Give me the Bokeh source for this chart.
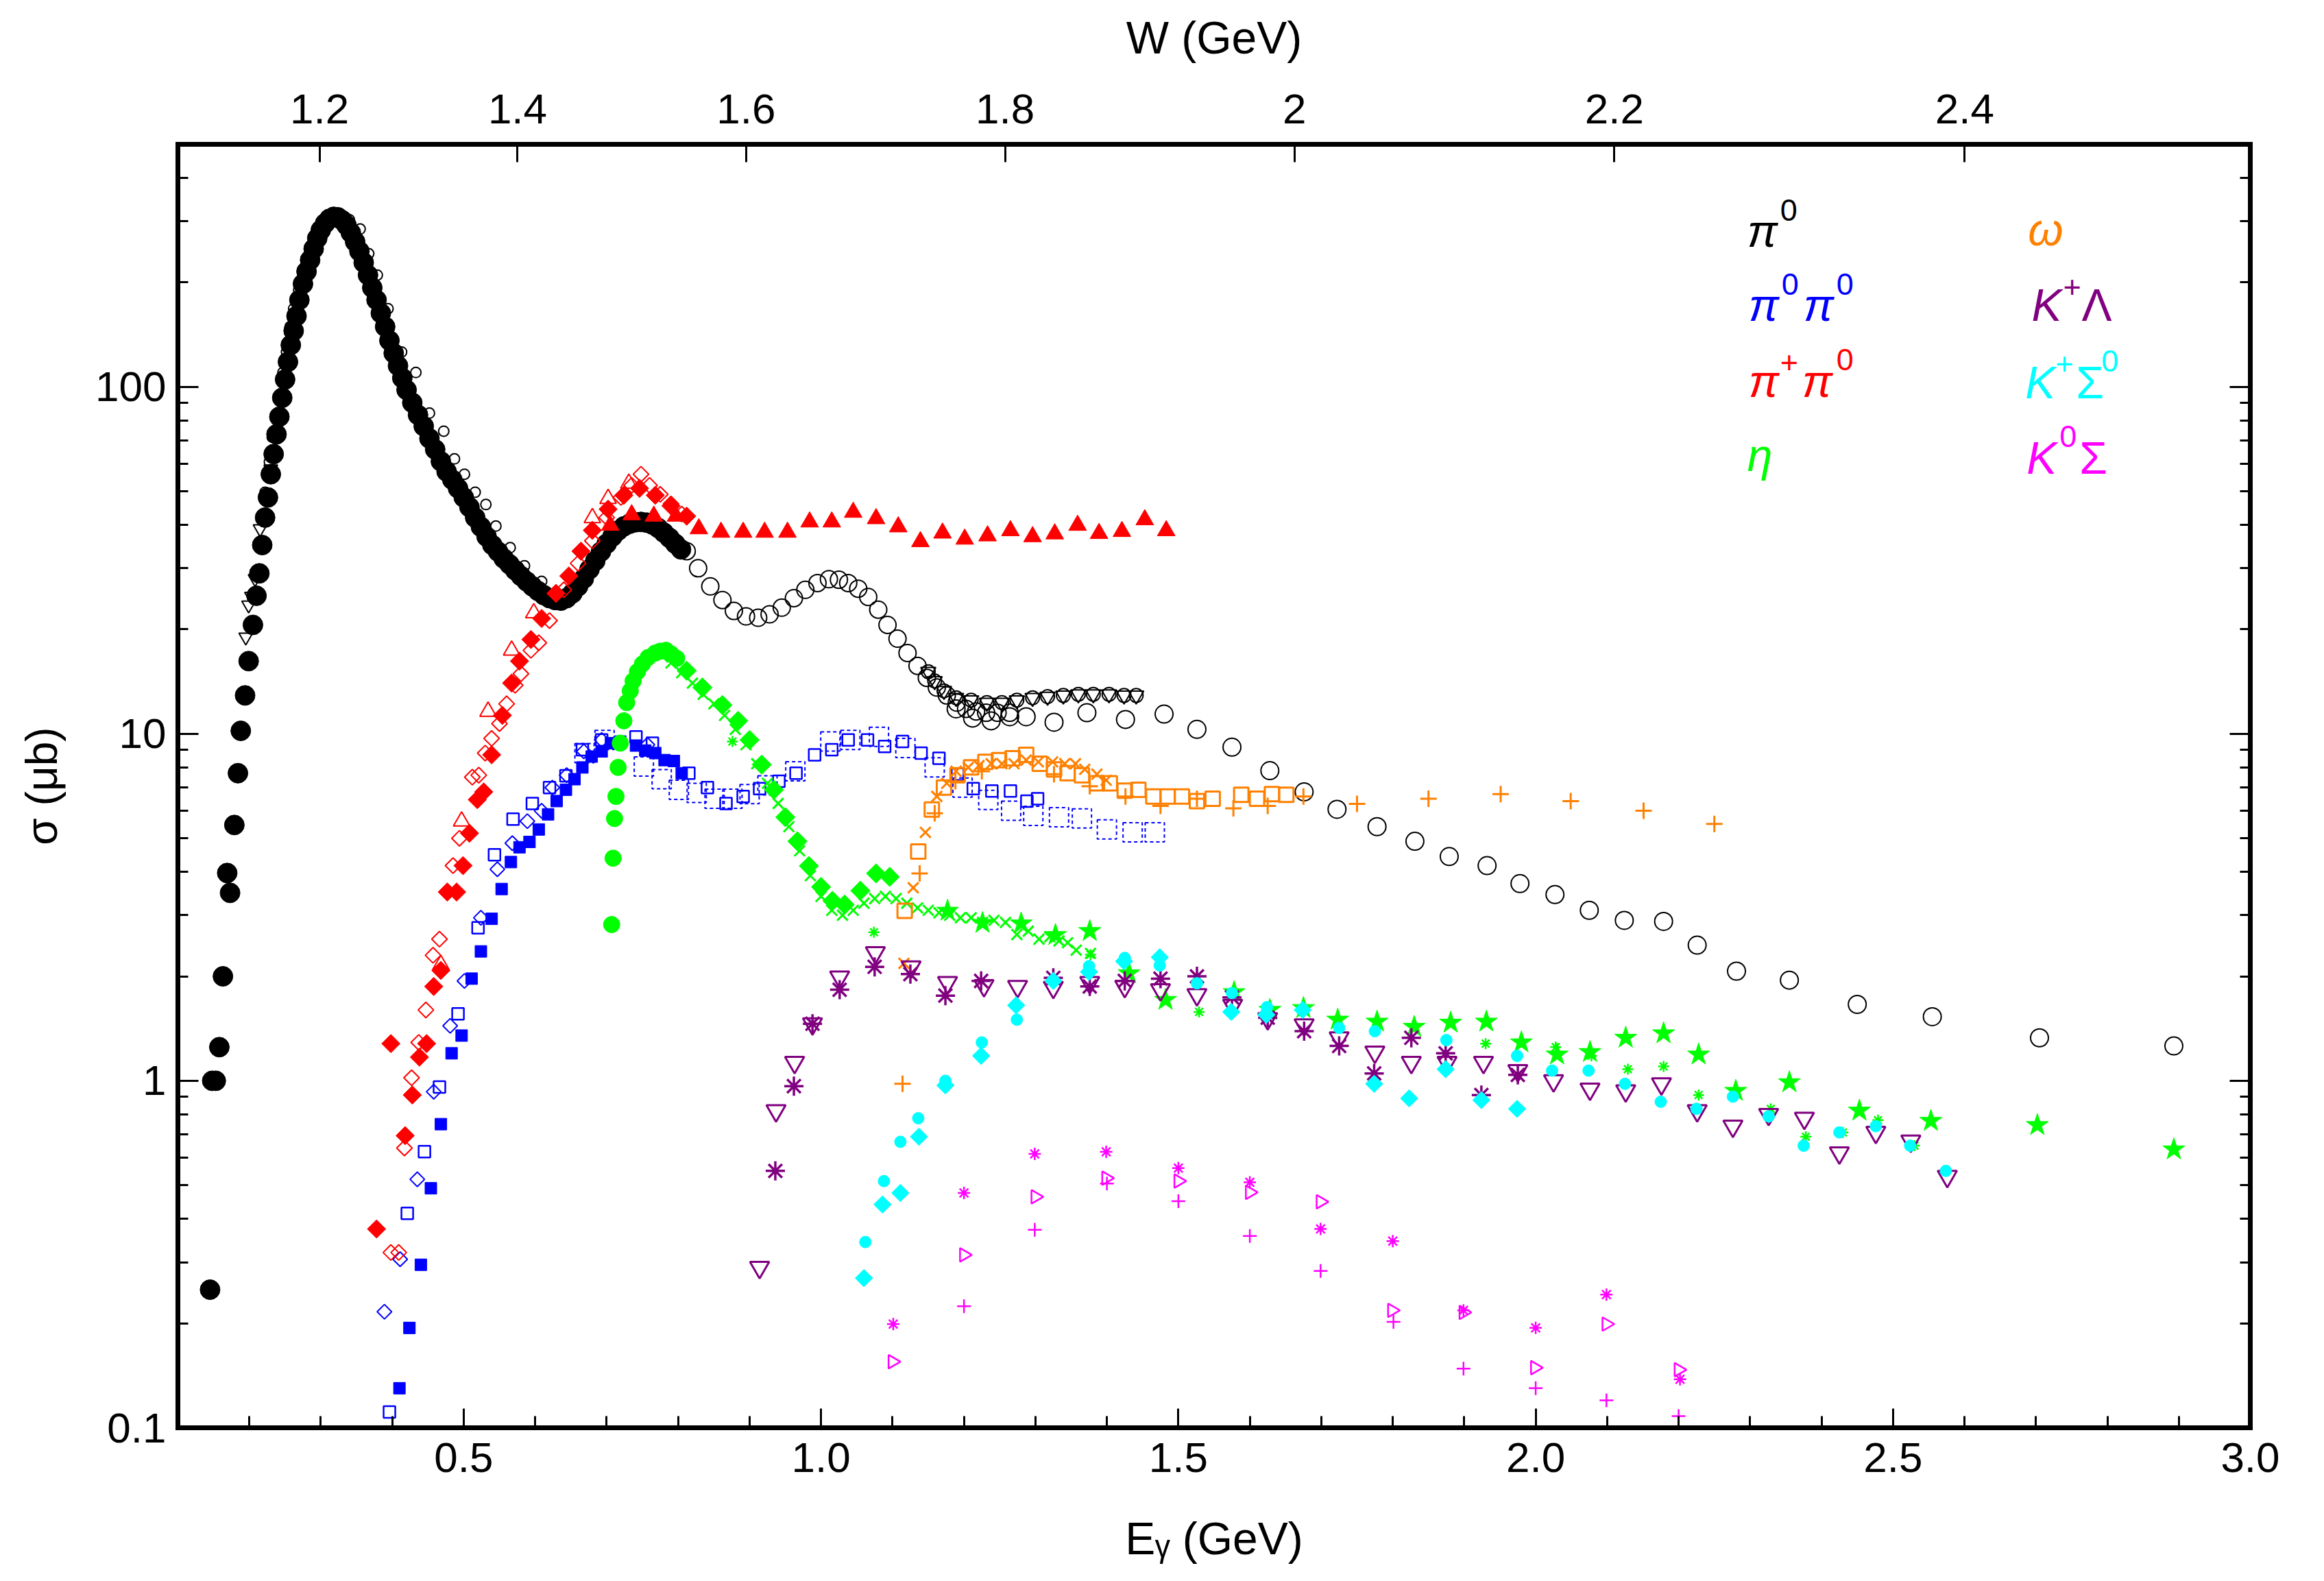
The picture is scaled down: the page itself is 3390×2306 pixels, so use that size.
import numpy as np
from bokeh.plotting import figure
from bokeh.models import FixedTicker, LinearAxis, LogAxis, Label, Range1d
from bokeh.embed import file_html
from bokeh.resources import INLINE

# ---------------- data (E_gamma [GeV], sigma [mub]) ----------------
# pi0 : black
pi0_fill = [(0.145, 0.25), (0.148, 1.0), (0.153, 1.0), (0.158, 1.25), (0.163, 2.0), (0.169, 3.97), (0.173, 3.48),
            (0.179, 5.46), (0.184, 7.7), (0.188, 10.2), (0.194, 12.9), (0.199, 16.2), (0.205, 20.6), (0.210, 25),
            (0.214, 29), (0.218, 35), (0.222, 42), (0.226, 48), (0.230, 56), (0.234, 64), (0.238, 73), (0.242, 82),
            (0.246, 93), (0.250, 105), (0.254, 118), (0.258, 132), (0.262, 145), (0.266, 160), (0.270, 178),
            (0.275, 198), (0.280, 215), (0.285, 232), (0.290, 250), (0.295, 268), (0.300, 283), (0.306, 296),
            (0.312, 305), (0.318, 309), (0.324, 308), (0.330, 302), (0.336, 292), (0.342, 278), (0.348, 262),
            (0.354, 246), (0.360, 228), (0.366, 210), (0.372, 193), (0.378, 178), (0.384, 163), (0.390, 149),
            (0.396, 136), (0.402, 125), (0.408, 115), (0.414, 106), (0.420, 98), (0.428, 90), (0.436, 83),
            (0.444, 77), (0.452, 71), (0.460, 66), (0.468, 61), (0.476, 57), (0.484, 54), (0.492, 51), (0.500, 48),
            (0.508, 45), (0.516, 42), (0.524, 39.5), (0.532, 37), (0.540, 35), (0.548, 33.5), (0.556, 32),
            (0.564, 30.8), (0.572, 29.6), (0.580, 28.5), (0.588, 27.5), (0.596, 26.6), (0.604, 25.8), (0.612, 25.1),
            (0.620, 24.6), (0.628, 24.3), (0.636, 24.2), (0.644, 24.6), (0.652, 25.4), (0.660, 26.6), (0.668, 28.0),
            (0.676, 29.8), (0.684, 31.5), (0.692, 33.5), (0.700, 35.3), (0.708, 37), (0.716, 38.5), (0.724, 39.6),
            (0.732, 40.3), (0.740, 40.7), (0.748, 40.8), (0.756, 40.6), (0.764, 40.1), (0.772, 39.2), (0.780, 38),
            (0.788, 36.7), (0.796, 35.3), (0.804, 34)]
pi0_small = [(0.222, 49.7), (0.228, 60.8), (0.232, 71.6), (0.237, 81), (0.242, 93), (0.247, 110), (0.252, 126),
             (0.257, 149), (0.262, 168), (0.269, 190), (0.276, 214), (0.286, 247), (0.296, 279), (0.311, 306),
             (0.325, 312), (0.340, 303), (0.355, 285), (0.367, 242), (0.379, 210), (0.394, 168), (0.413, 126),
             (0.433, 110), (0.452, 84), (0.472, 74.5), (0.487, 62), (0.501, 56), (0.516, 49.7), (0.531, 45.8),
             (0.545, 39.7), (0.565, 34.4), (0.585, 30.5), (0.609, 27.5), (0.678, 29.3), (0.697, 35.2), (0.720, 38.5),
             (0.745, 41), (0.770, 40)]
pi0_thr_tri = [(0.195, 19), (0.199, 23.5), (0.203, 24.9), (0.208, 28), (0.215, 39), (0.230, 58)]
pi0_open = [(0.812, 33.6), (0.828, 30.0), (0.845, 26.6), (0.862, 24.3), (0.878, 22.6), (0.895, 21.8), (0.912, 21.6),
            (0.928, 22.1), (0.945, 23.1), (0.962, 24.6), (0.978, 26.0), (0.995, 27.2), (1.011, 27.9), (1.025, 27.8),
            (1.038, 27.2), (1.052, 26.2), (1.066, 24.8), (1.080, 22.8), (1.093, 20.6), (1.107, 18.8), (1.121, 17.1),
            (1.135, 15.7), (1.148, 14.5), (1.162, 13.6), (1.176, 12.9), (1.190, 12.3), (1.203, 11.8), (1.217, 11.6),
            (1.231, 11.5), (1.247, 11.5), (1.264, 11.5)]
pi0_heart = [(1.150, 15.1), (1.159, 14.2), (1.172, 13.3), (1.189, 12.7), (1.210, 12.5), (1.232, 12.3), (1.253, 12.3),
             (1.274, 12.5), (1.296, 12.7), (1.317, 12.8), (1.339, 12.9), (1.360, 13.0), (1.381, 13.0), (1.403, 13.0),
             (1.424, 12.9), (1.441, 12.9)]
pi0_big = [(1.189, 11.8), (1.212, 11.1), (1.238, 10.9), (1.264, 11.2), (1.287, 11.2), (1.326, 10.8), (1.372, 11.5),
           (1.426, 11.0), (1.480, 11.4), (1.526, 10.3), (1.575, 9.15), (1.628, 7.83), (1.676, 6.8), (1.722, 6.06),
           (1.778, 5.4), (1.831, 4.9), (1.879, 4.43), (1.932, 4.17), (1.978, 3.7), (2.027, 3.44), (2.075, 3.1),
           (2.124, 2.9), (2.179, 2.88), (2.226, 2.46), (2.281, 2.07), (2.355, 1.95), (2.450, 1.66), (2.555, 1.53),
           (2.705, 1.33), (2.893, 1.26)]

# pi0 pi0 : blue
pp_fsq = [(0.410, 0.13), (0.424, 0.194), (0.440, 0.295), (0.454, 0.49), (0.468, 0.75), (0.483, 1.2), (0.497, 1.35),
          (0.511, 1.97), (0.524, 2.36), (0.539, 2.93), (0.553, 3.57), (0.566, 4.27), (0.578, 4.71), (0.592, 4.88),
          (0.605, 5.3), (0.618, 5.86), (0.630, 6.4), (0.643, 6.9), (0.655, 7.4), (0.666, 8.0), (0.679, 8.6),
          (0.693, 8.9), (0.706, 9.4), (0.719, 9.5), (0.741, 9.25), (0.754, 8.95), (0.768, 8.8), (0.781, 8.4),
          (0.794, 8.35), (0.805, 7.7)]
pp_osq = [(0.396, 0.111), (0.421, 0.415), (0.445, 0.625), (0.466, 0.96), (0.492, 1.56), (0.520, 2.76), (0.543, 4.48),
          (0.569, 5.68), (0.596, 6.3), (0.620, 7.0), (0.643, 7.57), (0.666, 9.0), (0.693, 9.6), (0.741, 9.8),
          (0.764, 9.4), (0.815, 7.7), (0.841, 7.0), (0.867, 6.3), (0.891, 6.6), (0.914, 6.95), (0.941, 7.3),
          (0.965, 7.7), (0.991, 8.7), (1.015, 9.0), (1.038, 9.6), (1.065, 9.6), (1.089, 9.2), (1.114, 9.5),
          (1.140, 8.8), (1.165, 8.5), (1.191, 7.65), (1.213, 6.95), (1.239, 6.84), (1.265, 6.84), (1.288, 6.4),
          (1.303, 6.5)]
pp_dsq = [(0.669, 8.8), (0.697, 9.6), (0.752, 8.05), (0.777, 7.4), (0.801, 6.9), (0.826, 6.76), (0.851, 6.5),
          (0.876, 6.5), (0.900, 6.7), (0.925, 7.1), (0.964, 7.8), (1.013, 9.5), (1.041, 9.6), (1.081, 9.8),
          (1.118, 9.1), (1.159, 8.0), (1.198, 7.0), (1.234, 6.45), (1.266, 6.0), (1.297, 5.8), (1.333, 5.75),
          (1.365, 5.7), (1.400, 5.3), (1.436, 5.2), (1.467, 5.2)]
pp_odia = [(0.389, 0.216), (0.411, 0.306), (0.435, 0.52), (0.458, 0.93), (0.481, 1.44), (0.501, 1.94), (0.524, 2.95),
           (0.547, 4.07), (0.568, 4.84), (0.589, 5.6), (0.609, 6.0), (0.624, 7.0), (0.644, 7.6), (0.668, 8.9),
           (0.693, 9.6), (0.757, 9.3)]

# pi+ pi0 : red
pc_fdia = [(0.378, 0.374), (0.398, 1.28), (0.418, 0.695), (0.428, 0.91), (0.438, 1.17), (0.448, 1.28), (0.458, 1.87),
           (0.468, 2.08), (0.477, 3.5), (0.490, 3.5), (0.499, 4.17), (0.508, 5.17), (0.519, 6.46), (0.528, 6.8),
           (0.539, 8.7), (0.554, 11.3), (0.567, 14), (0.578, 16.2), (0.594, 18.7), (0.609, 21.5), (0.629, 25.4),
           (0.647, 28.5), (0.664, 33.6), (0.680, 38.6), (0.702, 44.4), (0.724, 48.7), (0.746, 51), (0.768, 48.7),
           (0.790, 45.4), (0.812, 42.4)]
pc_odia = [(0.398, 0.32), (0.409, 0.32), (0.417, 0.64), (0.427, 1.02), (0.437, 1.29), (0.447, 1.6), (0.457, 2.3),
           (0.466, 2.56), (0.485, 4.17), (0.494, 5.0), (0.512, 7.5), (0.521, 7.6), (0.530, 8.8), (0.539, 9.7),
           (0.550, 10.7), (0.560, 12.2), (0.572, 13.8), (0.580, 14.9), (0.594, 17.4), (0.605, 18.3), (0.620, 21.2),
           (0.640, 26), (0.660, 31), (0.680, 36), (0.700, 42), (0.720, 48), (0.735, 52), (0.748, 56), (0.760, 52),
           (0.775, 49), (0.790, 46), (0.805, 43)]
pc_otri = [(0.468, 2.16), (0.497, 5.6), (0.534, 11.6), (0.567, 17.4), (0.598, 22.3), (0.680, 41.9), (0.702, 47.6),
           (0.731, 52.7)]
pc_ftri = [(0.705, 39.9), (0.735, 42.8), (0.766, 42.4), (0.797, 42.4), (0.829, 39), (0.860, 38.1), (0.891, 38.1),
           (0.921, 38.1), (0.953, 38.1), (0.984, 40.8), (1.015, 40.8), (1.045, 43.5), (1.077, 41.7), (1.108, 39.5),
           (1.139, 35.8), (1.170, 37.9), (1.201, 36.4), (1.233, 37.2), (1.265, 38.5), (1.296, 37), (1.327, 37.7),
           (1.359, 39.9), (1.389, 37.8), (1.421, 38.3), (1.453, 41.4), (1.483, 38.5)]

# eta : green
eta_club = [(0.707, 2.82), (0.709, 4.38), (0.711, 5.7), (0.713, 6.6), (0.716, 8.0), (0.719, 9.4), (0.724, 10.9),
            (0.728, 12.3), (0.733, 13.3), (0.737, 14.2), (0.743, 15.1), (0.750, 15.9), (0.758, 16.6), (0.768, 17.1),
            (0.775, 17.3), (0.783, 17.4), (0.790, 17.0), (0.798, 16.5)]
eta_dia = [(0.785, 17.1), (0.812, 15.2), (0.834, 13.6), (0.862, 12.1), (0.884, 10.9), (0.900, 9.6), (0.917, 8.15),
           (0.934, 6.9), (0.950, 5.75), (0.967, 4.9), (0.983, 4.16), (1.000, 3.62), (1.016, 3.3), (1.033, 3.22),
           (1.055, 3.53), (1.077, 3.96), (1.096, 3.87)]
eta_x = [(0.790, 16.0), (0.805, 15.0), (0.820, 14.0), (0.835, 13.0), (0.850, 12.2), (0.865, 11.3), (0.880, 10.3),
         (0.895, 9.3), (0.910, 8.2), (0.925, 7.2), (0.940, 6.3), (0.955, 5.4), (0.970, 4.6), (0.985, 3.9),
         (1.000, 3.4), (1.015, 3.1), (1.030, 3.0), (1.045, 3.1), (1.060, 3.25), (1.075, 3.35), (1.090, 3.4),
         (1.105, 3.35), (1.120, 3.25), (1.135, 3.15), (1.150, 3.1), (1.165, 3.05), (1.180, 3.0), (1.195, 2.95),
         (1.210, 2.95), (1.226, 2.86), (1.242, 2.9), (1.258, 2.86), (1.274, 2.64), (1.290, 2.7), (1.305, 2.56),
         (1.320, 2.6), (1.333, 2.53), (1.345, 2.5), (1.357, 2.38), (1.377, 2.33)]
eta_star = [(1.177, 3.09), (1.226, 2.85), (1.280, 2.84), (1.328, 2.63), (1.376, 2.70), (1.431, 2.04), (1.482, 1.71),
            (1.578, 1.80), (1.628, 1.60), (1.675, 1.62), (1.723, 1.50), (1.778, 1.48), (1.830, 1.43), (1.881, 1.47),
            (1.931, 1.48), (1.980, 1.29), (2.030, 1.19), (2.076, 1.21), (2.126, 1.33), (2.179, 1.37), (2.228, 1.19),
            (2.280, 0.935), (2.355, 0.99), (2.453, 0.82), (2.553, 0.766), (2.702, 0.745), (2.893, 0.634)]
eta_ast = [(0.876, 9.5), (1.074, 2.68), (1.377, 2.31), (1.529, 1.58), (1.930, 1.28), (2.028, 1.25), (2.078, 1.18),
           (2.129, 1.08), (2.179, 1.10), (2.228, 0.91), (2.329, 0.83), (2.378, 0.69), (2.430, 0.71), (2.479, 0.77),
           (2.530, 0.65)]

# omega : orange
om_x = [(1.116, 2.18), (1.129, 3.6), (1.146, 5.2), (1.162, 6.6), (1.176, 7.2), (1.189, 7.8), (1.206, 8.0),
        (1.221, 8.1), (1.238, 8.2), (1.253, 8.2), (1.270, 8.2), (1.287, 8.4), (1.304, 8.3), (1.324, 8.3),
        (1.341, 8.2), (1.356, 8.2), (1.369, 7.9), (1.386, 7.65), (1.399, 7.35)]
om_sq = [(1.117, 3.09), (1.136, 4.58), (1.155, 6.05), (1.172, 7.0), (1.191, 7.6), (1.210, 8.0), (1.230, 8.3),
         (1.249, 8.4), (1.268, 8.5), (1.287, 8.7), (1.306, 8.2), (1.326, 7.9), (1.345, 7.7), (1.365, 7.6),
         (1.386, 7.2), (1.404, 7.2), (1.425, 6.86), (1.444, 6.9), (1.465, 6.6), (1.485, 6.6), (1.505, 6.6),
         (1.526, 6.4), (1.548, 6.5), (1.588, 6.67), (1.610, 6.5), (1.631, 6.7), (1.651, 6.67)]
om_plus = [(1.114, 0.98), (1.138, 3.96), (1.159, 5.9), (1.188, 7.3), (1.225, 7.8), (1.326, 7.65), (1.376, 7.06),
           (1.426, 6.6), (1.475, 6.2), (1.526, 6.5), (1.577, 6.1), (1.625, 6.2), (1.675, 6.6), (1.750, 6.28),
           (1.850, 6.5), (1.951, 6.7), (2.049, 6.4), (2.151, 6.0), (2.250, 5.5)]

# K+ Lambda : purple
kl_ast = [(0.936, 0.55), (0.962, 0.965), (0.988, 1.46), (1.026, 1.83), (1.075, 2.13), (1.125, 2.03), (1.174, 1.76),
          (1.224, 1.94), (1.325, 1.98), (1.376, 1.87), (1.425, 1.94), (1.475, 1.97), (1.526, 2.0), (1.575, 1.74),
          (1.625, 1.52), (1.676, 1.39), (1.725, 1.26), (1.774, 1.05), (1.826, 1.33), (1.874, 1.2), (1.924, 0.91),
          (1.975, 1.04)]
kl_tri = [(0.914, 0.29), (0.937, 0.82), (0.963, 1.13), (0.988, 1.46), (1.026, 1.99), (1.076, 2.34), (1.126, 2.13),
          (1.177, 1.92), (1.228, 1.88), (1.275, 1.87), (1.325, 1.86), (1.376, 1.92), (1.425, 1.87), (1.475, 1.83),
          (1.526, 1.77), (1.576, 1.65), (1.625, 1.51), (1.676, 1.45), (1.725, 1.33), (1.775, 1.21), (1.826, 1.13),
          (1.876, 1.13), (1.927, 1.13), (1.975, 1.07), (2.025, 1.0), (2.076, 0.946), (2.126, 0.935), (2.176, 0.98),
          (2.226, 0.82), (2.276, 0.74), (2.326, 0.80), (2.376, 0.78), (2.425, 0.62), (2.476, 0.71), (2.525, 0.67),
          (2.576, 0.53)]

# K+ Sigma0 : cyan
ks_circ = [(1.062, 0.343), (1.088, 0.514), (1.111, 0.667), (1.136, 0.78), (1.174, 1.0), (1.225, 1.29), (1.274, 1.5),
           (1.375, 2.14), (1.425, 2.26), (1.474, 2.15), (1.526, 1.91), (1.575, 1.79), (1.624, 1.63), (1.725, 1.42),
           (1.775, 1.39), (1.875, 1.31), (1.974, 1.18), (2.023, 1.07), (2.074, 1.07), (2.125, 0.98), (2.175, 0.87),
           (2.225, 0.83), (2.276, 0.9), (2.326, 0.79), (2.375, 0.65), (2.425, 0.71), (2.476, 0.74), (2.524, 0.65),
           (2.574, 0.55)]
ks_dia = [(1.060, 0.27), (1.086, 0.44), (1.111, 0.475), (1.137, 0.69), (1.174, 0.97), (1.224, 1.18), (1.273, 1.65),
          (1.325, 1.94), (1.375, 2.06), (1.424, 2.21), (1.474, 2.27), (1.574, 1.58), (1.623, 1.55), (1.674, 1.6),
          (1.774, 0.98), (1.823, 0.89), (1.874, 1.08), (1.924, 0.88), (1.974, 0.83)]

# K0 Sigma : magenta
k0_ast = [(1.101, 0.199), (1.200, 0.475), (1.299, 0.616), (1.399, 0.624), (1.500, 0.56), (1.600, 0.51),
          (1.699, 0.374), (1.800, 0.345), (1.899, 0.218), (2.000, 0.194), (2.099, 0.242), (2.202, 0.138)]
k0_plus = [(1.200, 0.224), (1.299, 0.372), (1.400, 0.506), (1.500, 0.45), (1.600, 0.357), (1.699, 0.283),
           (1.801, 0.202), (1.899, 0.148), (2.000, 0.13), (2.099, 0.12), (2.200, 0.108)]
k0_tri = [(1.100, 0.155), (1.200, 0.315), (1.300, 0.463), (1.399, 0.524), (1.500, 0.514), (1.600, 0.477),
          (1.699, 0.448), (1.799, 0.218), (1.899, 0.215), (1.999, 0.149), (2.099, 0.199), (2.200, 0.147)]

# axes / ticks
M_P = 0.938272
W_TICKS = [1.2, 1.4, 1.6, 1.8, 2.0, 2.2, 2.4]
W_TICK_LABELS = ["1.2", "1.4", "1.6", "1.8", "2", "2.2", "2.4"]
X_TICKS = [0.5, 1.0, 1.5, 2.0, 2.5, 3.0]
X_TICK_LABELS = ["0.5", "1.0", "1.5", "2.0", "2.5", "3.0"]
Y_TICKS = [0.1, 1.0, 10.0, 100.0]
Y_TICK_LABELS = ["0.1", "1", "10", "100"]

# legend: colour, anchor (E, sigma), pieces (text, dx px, dy px, italic?, superscript?)
LEGEND = [
    ("#000000", 2.296, 281, [("π", 0, 0, True, False), ("0", 48, 31, False, True)]),
    ("#0000FF", 2.298, 172, [("π", 0, 0, True, False), ("0", 48, 31, False, True),
                             ("π", 80, 0, True, False), ("0", 128, 31, False, True)]),
    ("#FF0000", 2.298, 104, [("π", 0, 0, True, False), ("+", 46, 27, False, True),
                             ("π", 78, 0, True, False), ("0", 128, 31, False, True)]),
    ("#00FF00", 2.296, 63.6, [("η", 0, 0, True, False)]),
    ("#FF8000", 2.689, 284, [("ω", 0, 0, True, False)]),
    ("#800080", 2.694, 172, [("K", 0, 0, True, False), ("+", 46, 27, False, True), ("Λ", 73, 0, False, False)]),
    ("#00FFFF", 2.685, 103, [("K", 0, 0, True, False), ("+", 44, 27, False, True), ("Σ", 74, 0, False, False),
                             ("0", 111, 31, False, True)]),
    ("#FF00FF", 2.687, 62.5, [("K", 0, 0, True, False), ("0", 48, 31, False, True), ("Σ", 77, 0, False, False)]),
]

FONT = "Liberation Sans"

# ---------------- figure ----------------
p = figure(width=3374, height=2290, x_range=Range1d(0.1, 3.0), y_range=Range1d(0.1, 500),
           y_axis_type="log", output_backend="svg", toolbar_location=None, title=None,
           min_border_left=259, min_border_right=92, min_border_top=210, min_border_bottom=208)
p.background_fill_color = "white"
p.border_fill_color = "white"
p.xgrid.visible = False
p.ygrid.visible = False
p.outline_line_color = "black"
p.outline_line_width = 7


def style_axis(ax, major_in, minor_in):
    ax.axis_line_width = 7
    ax.axis_line_color = "black"
    ax.axis_line_cap = "square"
    ax.major_tick_line_width = 3
    ax.minor_tick_line_width = 3
    ax.major_tick_line_color = "black"
    ax.minor_tick_line_color = "black"
    ax.major_tick_in = major_in
    ax.major_tick_out = 0
    ax.minor_tick_in = minor_in
    ax.minor_tick_out = 0
    ax.major_label_text_font = FONT
    ax.major_label_text_font_size = "62px"
    ax.major_label_text_color = "black"
    ax.axis_label_text_font = FONT
    ax.axis_label_text_font_size = "66px"
    ax.axis_label_text_font_style = "normal"
    ax.axis_label_text_color = "black"


x_minor = [round(0.1 * k, 1) for k in range(2, 30) if k % 5 != 0]
y_minor = [m * d for d in (0.1, 1.0, 10.0) for m in range(2, 10)] + [200, 300, 400, 500]

xax = p.xaxis[0]
xax.ticker = FixedTicker(ticks=X_TICKS, minor_ticks=x_minor)
xax.major_label_overrides = {t: s for t, s in zip(X_TICKS, X_TICK_LABELS)}
style_axis(xax, 28, 17)
xax.axis_label = "Eᵧ (GeV)"
xax.major_label_standoff = 22
xax.axis_label_standoff = 57

yax = p.yaxis[0]
yax.ticker = FixedTicker(ticks=Y_TICKS, minor_ticks=y_minor)
yax.major_label_overrides = {t: s for t, s in zip(Y_TICKS, Y_TICK_LABELS)}
style_axis(yax, 30, 15)
yax.axis_label = "σ (μb)"
yax.axis_label_text_font_size = "64px"
yax.major_label_standoff = 17
yax.axis_label_standoff = 39

# right axis (ticks only)
rax = LogAxis(ticker=FixedTicker(ticks=Y_TICKS, minor_ticks=y_minor),
              major_label_overrides={t: "" for t in Y_TICKS})
style_axis(rax, 30, 15)
p.add_layout(rax, "right")

# top axis: W = sqrt(m^2 + 2 m E)
w_pos = [(w * w - M_P * M_P) / (2 * M_P) for w in W_TICKS]
tax = LinearAxis(ticker=FixedTicker(ticks=w_pos, minor_ticks=[]),
                 major_label_overrides={t: s for t, s in zip(w_pos, W_TICK_LABELS)})
style_axis(tax, 26, 0)
tax.axis_label = "W (GeV)"
tax.major_label_standoff = 31
tax.axis_label_standoff = 43
p.add_layout(tax, "above")


def plot(data, marker, size, color, filled, lw=2.0, angle=0.0, dash="solid"):
    xs = [d[0] for d in data]
    ys = [d[1] for d in data]
    p.scatter(xs, ys, marker=marker, size=size, angle=angle,
              fill_color=color if filled else None, line_color=color,
              line_width=lw, line_dash=dash)


BLACK, BLUE, RED, GREEN = "#000000", "#0000FF", "#FF0000", "#00FF00"
ORANGE, PURPLE, CYAN, MAGENTA = "#FF8000", "#800080", "#00FFFF", "#FF00FF"
D45 = np.pi / 4

# black
plot(pi0_big, "circle", 26, BLACK, False, 2)
plot(pi0_open, "circle", 25, BLACK, False, 2)
plot(pi0_heart, "circle", 20, BLACK, False, 2)
plot(pi0_heart, "inverted_triangle", 22, BLACK, False, 2)
plot(pi0_small, "circle", 15, BLACK, False, 2)
plot(pi0_thr_tri, "inverted_triangle", 20, BLACK, False, 2)
plot(pi0_fill, "circle", 29, BLACK, True, 1)
# blue
plot(pp_dsq, "square", 28, BLUE, False, 2, dash="5 4")
plot(pp_osq, "square", 17, BLUE, False, 2.5)
plot(pp_odia, "square", 15, BLUE, False, 2, angle=D45)
plot(pp_fsq, "square", 17, BLUE, True, 1)
# red
plot(pc_odia, "square", 16, RED, False, 2, angle=D45)
plot(pc_otri, "triangle", 24, RED, False, 2)
plot(pc_fdia, "square", 19, RED, True, 1, angle=D45)
plot(pc_ftri, "triangle", 26, RED, True, 1)
# green
plot(eta_x, "x", 22, GREEN, False, 3)
plot(eta_club, "circle", 24, GREEN, True, 1)
plot(eta_dia, "square", 20, GREEN, True, 1, angle=D45)
plot(eta_star, "star", 34, GREEN, True, 1)
plot(eta_ast, "asterisk", 16, GREEN, False, 2.5)
# orange
plot(om_sq, "square", 21, ORANGE, False, 3)
plot(om_x, "x", 22, ORANGE, False, 3)
plot(om_plus, "cross", 24, ORANGE, False, 3)
# purple
plot(kl_tri, "inverted_triangle", 28, PURPLE, False, 3)
plot(kl_ast, "asterisk", 28, PURPLE, False, 3.5)
# cyan
plot(ks_dia, "square", 18, CYAN, True, 1, angle=D45)
plot(ks_circ, "circle", 17, CYAN, True, 1)
# magenta
plot(k0_ast, "asterisk", 18, MAGENTA, False, 2.5)
plot(k0_plus, "cross", 20, MAGENTA, False, 2.5)
plot(k0_tri, "triangle", 20, MAGENTA, False, 2.5, angle=-np.pi / 2)

# legend (text labels built from pieces)
for col, lx, ly, pieces in LEGEND:
    for txt, dx, dy, ital, sup in pieces:
        p.add_layout(Label(x=lx, y=ly, x_offset=dx, y_offset=dy, text=txt, text_color=col,
                           text_font=FONT, text_font_size="45px" if sup else "66px",
                           text_font_style="italic" if ital else "normal",
                           text_align="left", text_baseline="alphabetic"))

open("out.html", "w").write(file_html(p, INLINE))
